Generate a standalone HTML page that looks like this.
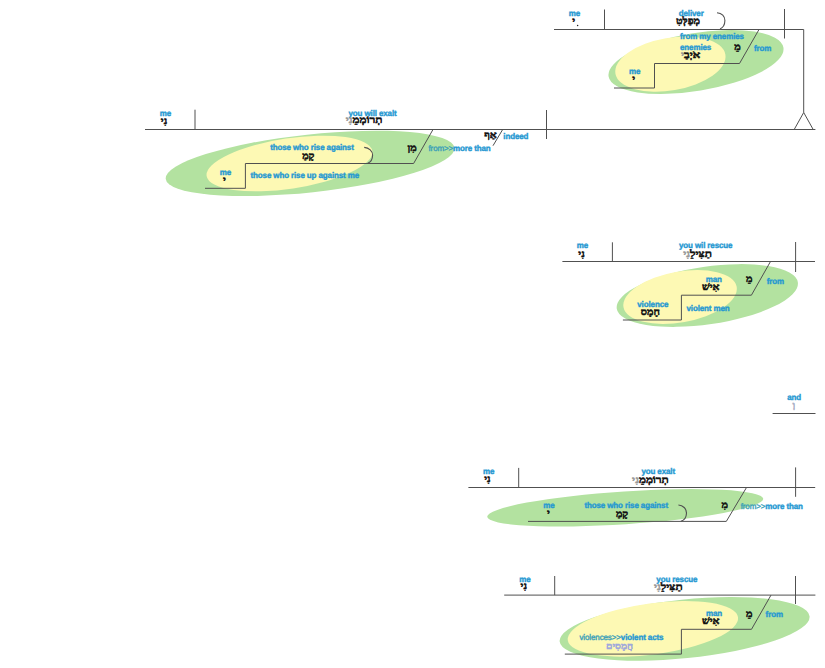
<!DOCTYPE html>
<html><head><meta charset="utf-8"><style>
html,body{margin:0;padding:0;background:#fff;width:825px;height:668px;overflow:hidden}
svg{display:block;text-rendering:geometricPrecision}
.s{font-family:"Liberation Sans",sans-serif;stroke-width:0.38px;letter-spacing:-0.12px}
.h{font-family:"Liberation Serif",serif;font-weight:bold;stroke-width:0.5px}
</style></head><body>
<svg width="825" height="668" viewBox="0 0 825 668">
<ellipse cx="696.0" cy="62.0" rx="88.6" ry="28.9" transform="rotate(-9.39 696.0 62.0)" fill="#b3e2a0"/>
<ellipse cx="670.4" cy="64.1" rx="55.8" ry="26.3" transform="rotate(-9.85 670.4 64.1)" fill="#fdf9b4"/>
<path d="M554,29.5 H803.7 V112.5" fill="none" stroke="#505050" stroke-width="1.0"/>
<path d="M803.7,112.5 L794.2,129.5 M803.7,112.5 L813.2,129.5" fill="none" stroke="#505050" stroke-width="1.0"/>
<path d="M604.5,9.5 V29.5" fill="none" stroke="#505050" stroke-width="1.0"/>
<path d="M784.5,9 V38.5" fill="none" stroke="#505050" stroke-width="1.0"/>
<path d="M717,12.7 C721.8,12.9 725,16.4 724.9,20.6 C724.8,24.6 722.7,28 720,28.9" fill="none" stroke="#505050" stroke-width="1.1"/>
<path d="M759,29.5 L739.5,63.5 H654.5 V88 H614" fill="none" stroke="#505050" stroke-width="1.0"/>
<text transform="translate(574.5 15.8) scale(0.975 1)" text-anchor="middle" fill="#2598d2" font-size="8.2" font-weight="bold" stroke="#2598d2" class="s">me</text>
<text transform="translate(691.2 15.8) scale(0.975 1)" text-anchor="middle" fill="#2598d2" font-size="8.2" font-weight="bold" stroke="#2598d2" class="s">deliver</text>
<text transform="translate(680 39.4) scale(0.975 1)" text-anchor="start" fill="#2598d2" font-size="8.2" font-weight="bold" stroke="#2598d2" class="s">from my enemies</text>
<text transform="translate(680 49.8) scale(0.975 1)" text-anchor="start" fill="#2598d2" font-size="8.2" font-weight="bold" stroke="#2598d2" class="s">enemies</text>
<text transform="translate(754 51.1) scale(0.975 1)" text-anchor="start" fill="#2598d2" font-size="8.2" font-weight="bold" stroke="#2598d2" class="s">from</text>
<text transform="translate(629 74.1) scale(0.975 1)" text-anchor="start" fill="#2598d2" font-size="8.2" font-weight="bold" stroke="#2598d2" class="s">me</text>
<text transform="translate(573.7 24.4) scale(1.13 1)" text-anchor="middle" fill="#111" stroke="#111" font-size="9.6" class="h">י</text>
<circle cx="577.6" cy="25.4" r="0.75" fill="#222"/>
<text transform="translate(688 24.0) scale(1.13 1)" text-anchor="middle" fill="#111" stroke="#111" font-size="9.6" class="h">מְפַלְּטִ</text>
<text transform="translate(690.7 58.2) scale(1.22 1)" text-anchor="middle" font-size="9.6" class="h"><tspan fill="#111" stroke="#111">אֹיְבַ</tspan><tspan fill="#999" stroke="#999">י</tspan></text>
<text transform="translate(737.5 49.7) scale(1.13 1)" text-anchor="middle" fill="#111" stroke="#111" font-size="9.6" class="h">מֵ</text>
<text transform="translate(633.6 82.2) scale(1.13 1)" text-anchor="middle" fill="#111" stroke="#111" font-size="9.6" class="h">י</text>
<ellipse cx="310.1" cy="163.4" rx="145.2" ry="28.9" transform="rotate(-6.15 310.1 163.4)" fill="#b3e2a0"/>
<ellipse cx="289.5" cy="163.5" rx="83.8" ry="25.2" transform="rotate(-8.54 289.5 163.5)" fill="#fdf9b4"/>
<path d="M145,129.5 H815.4" fill="none" stroke="#505050" stroke-width="1.0"/>
<path d="M195,109.7 V129.5" fill="none" stroke="#505050" stroke-width="1.0"/>
<path d="M546.5,110 V139" fill="none" stroke="#505050" stroke-width="1.0"/>
<path d="M433,129.5 L413.6,163.5 H245.4 V188.3 H205" fill="none" stroke="#505050" stroke-width="1.0"/>
<path d="M502.7,129.5 L493,145.7" fill="none" stroke="#505050" stroke-width="1.0"/>
<path d="M364.2,147.4 C369,147.6 372.7,151 372.6,155.2 C372.5,159.2 370.4,162.3 367.7,163.2" fill="none" stroke="#505050" stroke-width="1.1"/>
<text transform="translate(165.3 116.3) scale(0.975 1)" text-anchor="middle" fill="#2598d2" font-size="8.2" font-weight="bold" stroke="#2598d2" class="s">me</text>
<text transform="translate(348.5 115.9) scale(0.975 1)" text-anchor="start" fill="#2598d2" font-size="8.2" font-weight="bold" stroke="#2598d2" class="s">you will exalt</text>
<text transform="translate(270.2 150.0) scale(0.975 1)" text-anchor="start" fill="#2598d2" font-size="8.2" font-weight="bold" stroke="#2598d2" class="s">those who rise against</text>
<text transform="translate(250.5 178.4) scale(0.975 1)" text-anchor="start" fill="#2598d2" font-size="8.2" font-weight="bold" stroke="#2598d2" class="s">those who rise up against me</text>
<text transform="translate(225.3 175.0) scale(0.975 1)" text-anchor="middle" fill="#2598d2" font-size="8.2" font-weight="bold" stroke="#2598d2" class="s">me</text>
<text transform="translate(428.5 151.4) scale(0.975 1)" text-anchor="start" font-size="8.2" class="s"><tspan fill="#3aa0b8" stroke="#3aa0b8" font-weight="normal">from&gt;&gt;</tspan><tspan fill="#2598d2" stroke="#2598d2" font-weight="bold">more than</tspan></text>
<text transform="translate(503.3 139.3) scale(0.975 1)" text-anchor="start" fill="#2598d2" font-size="8.2" font-weight="bold" stroke="#2598d2" class="s">indeed</text>
<text transform="translate(164 124.2) scale(1.13 1)" text-anchor="middle" fill="#111" stroke="#111" font-size="9.6" class="h">נִי</text>
<text transform="translate(364 123.2) scale(1.22 1)" text-anchor="middle" font-size="9.6" class="h"><tspan fill="#111" stroke="#111">תְרוֹמְמֵ</tspan><tspan fill="#999" stroke="#999">נִי</tspan></text>
<text transform="translate(308.3 159.2) scale(1.13 1)" text-anchor="middle" fill="#111" stroke="#111" font-size="9.6" class="h">קָמַ</text>
<text transform="translate(224.5 182.7) scale(1.13 1)" text-anchor="middle" fill="#111" stroke="#111" font-size="9.6" class="h">י</text>
<text transform="translate(412 150.5) scale(1.13 1)" text-anchor="middle" fill="#111" stroke="#111" font-size="9.6" class="h">מִן</text>
<text transform="translate(490.5 137.7) scale(1.13 1)" text-anchor="middle" fill="#111" stroke="#111" font-size="9.6" class="h">אַף</text>
<ellipse cx="707.3" cy="295.5" rx="91.5" ry="28.8" transform="rotate(-8.28 707.3 295.5)" fill="#b3e2a0"/>
<ellipse cx="680.1" cy="297.0" rx="57.5" ry="25.3" transform="rotate(-10.15 680.1 297.0)" fill="#fdf9b4"/>
<path d="M562.4,261.5 H815" fill="none" stroke="#505050" stroke-width="1.0"/>
<path d="M612.4,242.3 V261.5" fill="none" stroke="#505050" stroke-width="1.0"/>
<path d="M795.6,242 V272" fill="none" stroke="#505050" stroke-width="1.0"/>
<path d="M770.5,261.5 L751.4,295.2 H681.4 V320 H622.9" fill="none" stroke="#505050" stroke-width="1.0"/>
<text transform="translate(582.5 248.3) scale(0.975 1)" text-anchor="middle" fill="#2598d2" font-size="8.2" font-weight="bold" stroke="#2598d2" class="s">me</text>
<text transform="translate(679 248.0) scale(0.975 1)" text-anchor="start" fill="#2598d2" font-size="8.2" font-weight="bold" stroke="#2598d2" class="s">you wil rescue</text>
<text transform="translate(713.8 282.3) scale(0.975 1)" text-anchor="middle" fill="#2598d2" font-size="8.2" font-weight="bold" stroke="#2598d2" class="s">man</text>
<text transform="translate(766.7 283.6) scale(0.975 1)" text-anchor="start" fill="#2598d2" font-size="8.2" font-weight="bold" stroke="#2598d2" class="s">from</text>
<text transform="translate(652.8 306.5) scale(0.975 1)" text-anchor="middle" fill="#2598d2" font-size="8.2" font-weight="bold" stroke="#2598d2" class="s">violence</text>
<text transform="translate(686.5 311.1) scale(0.975 1)" text-anchor="start" fill="#2598d2" font-size="8.2" font-weight="bold" stroke="#2598d2" class="s">violent men</text>
<text transform="translate(581.5 256.7) scale(1.13 1)" text-anchor="middle" fill="#111" stroke="#111" font-size="9.6" class="h">נִי</text>
<text transform="translate(697.5 257.2) scale(1.22 1)" text-anchor="middle" font-size="9.6" class="h"><tspan fill="#111" stroke="#111">תַצִּילֵ</tspan><tspan fill="#999" stroke="#999">נִי</tspan></text>
<text transform="translate(710.7 290.2) scale(1.13 1)" text-anchor="middle" fill="#111" stroke="#111" font-size="9.6" class="h">אִישׁ</text>
<text transform="translate(749.3 282.2) scale(1.13 1)" text-anchor="middle" fill="#111" stroke="#111" font-size="9.6" class="h">מֵ</text>
<text transform="translate(650.3 315.2) scale(1.13 1)" text-anchor="middle" fill="#111" stroke="#111" font-size="9.6" class="h">חָמָס</text>
<path d="M772.6,413.5 H815.5" fill="none" stroke="#505050" stroke-width="1.0"/>
<text transform="translate(794.2 400.1) scale(0.975 1)" text-anchor="middle" fill="#2598d2" font-size="8.2" font-weight="bold" stroke="#2598d2" class="s">and</text>
<text transform="translate(793.7 408.0) scale(1.13 1)" text-anchor="middle" fill="#a8b0c4" stroke="#a8b0c4" font-size="9" class="h">וְ</text>
<ellipse cx="625.2" cy="507.8" rx="138.3" ry="16.4" transform="rotate(-3.75 625.2 507.8)" fill="#b3e2a0"/>
<path d="M468.4,487.5 H815.2" fill="none" stroke="#505050" stroke-width="1.0"/>
<path d="M518.7,467.9 V487.5" fill="none" stroke="#505050" stroke-width="1.0"/>
<path d="M795.6,467.4 V496.8" fill="none" stroke="#505050" stroke-width="1.0"/>
<path d="M746.5,487.5 L726.3,521.4 H528" fill="none" stroke="#505050" stroke-width="1.0"/>
<path d="M678.4,505 C683,505.2 686.6,508.8 686.5,513.1 C686.4,517 684,520.4 680.9,521.3" fill="none" stroke="#505050" stroke-width="1.1"/>
<text transform="translate(488.6 473.7) scale(0.975 1)" text-anchor="middle" fill="#2598d2" font-size="8.2" font-weight="bold" stroke="#2598d2" class="s">me</text>
<text transform="translate(658.2 474.2) scale(0.975 1)" text-anchor="middle" fill="#2598d2" font-size="8.2" font-weight="bold" stroke="#2598d2" class="s">you exalt</text>
<text transform="translate(548.9 508.2) scale(0.975 1)" text-anchor="middle" fill="#2598d2" font-size="8.2" font-weight="bold" stroke="#2598d2" class="s">me</text>
<text transform="translate(626.2 508.1) scale(0.975 1)" text-anchor="middle" fill="#2598d2" font-size="8.2" font-weight="bold" stroke="#2598d2" class="s">those who rise against</text>
<text transform="translate(740.7 509.4) scale(0.975 1)" text-anchor="start" font-size="8.2" class="s"><tspan fill="#3aa0b8" stroke="#3aa0b8" font-weight="normal">from&gt;&gt;</tspan><tspan fill="#2598d2" stroke="#2598d2" font-weight="bold">more than</tspan></text>
<text transform="translate(487.4 482.2) scale(1.13 1)" text-anchor="middle" fill="#111" stroke="#111" font-size="9.6" class="h">נִי</text>
<text transform="translate(650.4 482.7) scale(1.22 1)" text-anchor="middle" font-size="9.6" class="h"><tspan fill="#111" stroke="#111">תְרוֹמְמֵ</tspan><tspan fill="#999" stroke="#999">נִי</tspan></text>
<text transform="translate(548.3 516.4) scale(1.13 1)" text-anchor="middle" fill="#111" stroke="#111" font-size="9.6" class="h">י</text>
<text transform="translate(622 516.7) scale(1.13 1)" text-anchor="middle" fill="#111" stroke="#111" font-size="9.6" class="h">קָמַ</text>
<text transform="translate(724.8 508.2) scale(1.13 1)" text-anchor="middle" fill="#111" stroke="#111" font-size="9.6" class="h">מִ</text>
<ellipse cx="684.6" cy="628.9" rx="125.6" ry="29.3" transform="rotate(-5.79 684.6 628.9)" fill="#b3e2a0"/>
<ellipse cx="652.9" cy="628.8" rx="85.9" ry="25.6" transform="rotate(-7.68 652.9 628.8)" fill="#fdf9b4"/>
<path d="M504.2,595.1 H815.4" fill="none" stroke="#505050" stroke-width="1.0"/>
<path d="M554.7,576 V595.1" fill="none" stroke="#505050" stroke-width="1.0"/>
<path d="M795.5,576 V604" fill="none" stroke="#505050" stroke-width="1.0"/>
<path d="M771,595.1 L751.5,629.3 H681.4 V654.1 H564.8" fill="none" stroke="#505050" stroke-width="1.0"/>
<text transform="translate(525 581.6) scale(0.975 1)" text-anchor="middle" fill="#2598d2" font-size="8.2" font-weight="bold" stroke="#2598d2" class="s">me</text>
<text transform="translate(676.8 581.6) scale(0.975 1)" text-anchor="middle" fill="#2598d2" font-size="8.2" font-weight="bold" stroke="#2598d2" class="s">you rescue</text>
<text transform="translate(714 616.0) scale(0.975 1)" text-anchor="middle" fill="#2598d2" font-size="8.2" font-weight="bold" stroke="#2598d2" class="s">man</text>
<text transform="translate(765.6 617.0) scale(0.975 1)" text-anchor="start" fill="#2598d2" font-size="8.2" font-weight="bold" stroke="#2598d2" class="s">from</text>
<text transform="translate(579.5 640.1) scale(0.975 1)" text-anchor="start" font-size="8.2" class="s"><tspan fill="#3aa0b8" stroke="#3aa0b8" font-weight="normal">violences&gt;&gt;</tspan><tspan fill="#2598d2" stroke="#2598d2" font-weight="bold">violent acts</tspan></text>
<text transform="translate(523.8 589.2) scale(1.13 1)" text-anchor="middle" fill="#111" stroke="#111" font-size="9.6" class="h">נִי</text>
<text transform="translate(668.3 589.7) scale(1.22 1)" text-anchor="middle" font-size="9.6" class="h"><tspan fill="#111" stroke="#111">תַצִּילֵ</tspan><tspan fill="#999" stroke="#999">נִי</tspan></text>
<text transform="translate(710.7 624.2) scale(1.13 1)" text-anchor="middle" fill="#111" stroke="#111" font-size="9.6" class="h">אִישׁ</text>
<text transform="translate(749.2 617.0) scale(1.13 1)" text-anchor="middle" fill="#111" stroke="#111" font-size="9.6" class="h">מֵ</text>
<text transform="translate(619.5 649.2) scale(1.13 1)" text-anchor="middle" fill="#9ea8dc" stroke="#9ea8dc" font-size="9" class="h">חֲמָסִים</text>
</svg>
</body></html>
